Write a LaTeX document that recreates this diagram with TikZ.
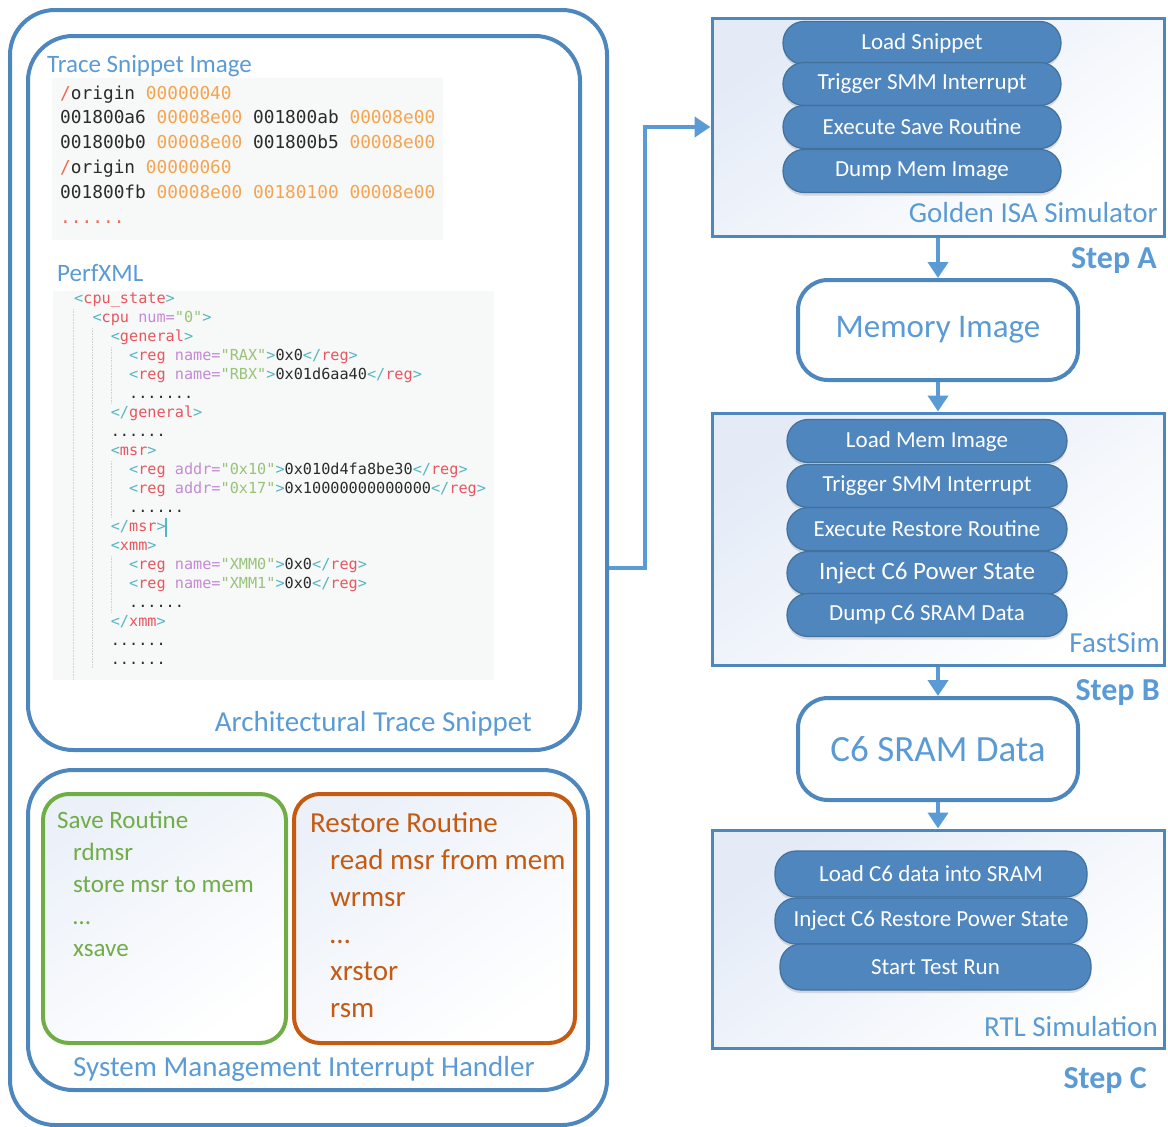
\documentclass[tikz,border=0pt]{standalone}
\usepackage{fontspec}
\setmainfont{Carlito}
\setmonofont{DejaVu Sans Mono}
\usetikzlibrary{arrows.meta,shadows}

\definecolor{boxblue}{HTML}{4E86BE}
\definecolor{arrowblue}{HTML}{5B9BD5}
\definecolor{labelblue}{HTML}{5B9BD5}
\definecolor{pillfill}{HTML}{4F86BD}
\definecolor{pillline}{HTML}{41719C}
\definecolor{simtint}{HTML}{E4EBF7}
\definecolor{savegreen}{HTML}{70AD47}
\definecolor{restorange}{HTML}{C55A11}
\definecolor{codebg}{HTML}{F7F8F8}
\definecolor{codetext}{HTML}{2B2B2B}
\definecolor{hexorange}{HTML}{F5A44F}
\definecolor{slashred}{HTML}{EE6A50}
\definecolor{xmlbr}{HTML}{56B6C2}
\definecolor{xmltag}{HTML}{E8575F}
\definecolor{xmlat}{HTML}{C58AD6}
\definecolor{xmlval}{HTML}{98C379}

% trace snippet colouring
\newcommand{\hx}[1]{{\color{hexorange}#1}}
\newcommand{\rsl}{{\color{slashred}/}}
% xml colouring
\newcommand{\xo}[1]{{\color{xmlbr}<}{\color{xmltag}#1}}
\newcommand{\xc}{{\color{xmlbr}>}}
\newcommand{\xe}[1]{{\color{xmlbr}</}{\color{xmltag}#1}{\color{xmlbr}>}}
\newcommand{\xa}[2]{{\color{xmlat}#1=}{\color{xmlval}"#2"}}
\newcommand{\lvl}[1]{\hspace*{#1\dimexpr1.204em\relax}}

\begin{document}
\begin{tikzpicture}[x=1pt, y=-1pt,
	box/.style = {draw = boxblue, line width = 4pt, rounded corners = 45pt, inner sep = 0pt},
	routine/.style = {line width = 4pt, rounded corners = 26pt, inner sep = 0pt,
					 top color = simtint!70, bottom color = white, shading angle = 35},
	simbox/.style = {draw = boxblue, line width = 3pt, inner sep = 0pt,
					 top color = simtint, bottom color = white, shading angle = 35},
	databox/.style = {draw = boxblue, line width = 4pt, fill = white, rounded corners = 30pt,
					 minimum width = 280pt, text = labelblue},
	pill/.style = {draw = pillline, fill = pillfill, line width = 1.2pt, rounded corners = 21pt,
				   minimum height = 43pt, text = white, font = \fontsize{23}{26}\selectfont,
				   drop shadow = {shadow xshift = 0pt, shadow yshift = -3pt, opacity = .25}},
	label/.style = {text = labelblue, inner sep = 0pt},
	steplbl/.style = {text = labelblue, inner sep = 0pt, font = \fontsize{32}{36}\bfseries},
	code/.style = {fill = codebg, inner sep = 0pt},
	guide/.style = {draw = gray!35, densely dotted, line width = .6pt},
	flow/.style = {draw = arrowblue, line width = 4pt, -{Triangle[width = 20pt, length = 16pt]}}]

	\useasboundingbox (0,0) rectangle (1168,1127);

	% left column
	\node[box, minimum width = 597pt, minimum height = 1115pt] (outer) at (308.5,567.5) {};
	\node[box, minimum width = 552pt, minimum height = 714pt] (archbox) at (304,393) {};
	\node[box, minimum width = 560pt, minimum height = 320pt] (smibox) at (308,930) {};

	\node[code, minimum width = 391pt, minimum height = 162pt] (tracebg) at (247.5,159) {};
	\node[code, minimum width = 441pt, minimum height = 389pt] (perfbg) at (273.5,485.5) {};

	\node[label, anchor = base west, font = \fontsize{25}{30}\selectfont] (tracelbl) at (47,72) {Trace Snippet Image};
	\node[label, anchor = base west, font = \fontsize{25}{30}\selectfont] (perflbl) at (57,281) {PerfXML};
	\node[label, anchor = base east, font = \fontsize{29}{32}\selectfont] (archlbl) at (532,731) {Architectural Trace Snippet};

	\node[anchor = north west, inner sep = 0pt, align = left, text = codetext,
		  font = \fontsize{17.8}{24.8}\ttfamily] (tracecode) at (60,81.6) {%
		\strut\rsl origin \hx{00000040}\\
		001800a6 \hx{00008e00} 001800ab \hx{00008e00}\\
		001800b0 \hx{00008e00} 001800b5 \hx{00008e00}\\
		\rsl origin \hx{00000060}\\
		001800fb \hx{00008e00} \hx{00180100} \hx{00008e00}\\
		{\color{slashred}......}};

	% indent guides
	\draw[guide] (73,309) -- (73,680);
	\draw[guide] (92,328) -- (92,668);
	\draw[guide] (111,347) -- (111,404);
	\draw[guide] (111,461) -- (111,518);
	\draw[guide] (111,556) -- (111,613);

	\node[anchor = north west, inner sep = 0pt, align = left, text = codetext,
		  font = \fontsize{15.2}{19}\ttfamily] (perfcode) at (74,290) {%
		\strut\xo{cpu\_state}\xc\\
		\lvl{1}\xo{cpu} \xa{num}{0}\xc\\
		\lvl{2}\xo{general}\xc\\
		\lvl{3}\xo{reg} \xa{name}{RAX}\xc 0x0\xe{reg}\\
		\lvl{3}\xo{reg} \xa{name}{RBX}\xc 0x01d6aa40\xe{reg}\\
		\lvl{3}.......\\
		\lvl{2}\xe{general}\\
		\lvl{2}......\\
		\lvl{2}\xo{msr}\xc\\
		\lvl{3}\xo{reg} \xa{addr}{0x10}\xc 0x010d4fa8be30\xe{reg}\\
		\lvl{3}\xo{reg} \xa{addr}{0x17}\xc 0x10000000000000\xe{reg}\\
		\lvl{3}......\\
		\lvl{2}\xe{msr}\\
		\lvl{2}\xo{xmm}\xc\\
		\lvl{3}\xo{reg} \xa{name}{XMM0}\xc 0x0\xe{reg}\\
		\lvl{3}\xo{reg} \xa{name}{XMM1}\xc 0x0\xe{reg}\\
		\lvl{3}......\\
		\lvl{2}\xe{xmm}\\
		\lvl{2}......\\
		\lvl{2}......};
	\draw[xmlbr, line width = 1.5pt] (166,518) -- (166,537);

	% save / restore routines
	\node[routine, draw = savegreen, minimum width = 243pt, minimum height = 249pt] (savebox) at (164.5,918.5) {};
	\node[routine, draw = restorange, minimum width = 281pt, minimum height = 249pt] (restbox) at (434.5,918.5) {};

	\node[anchor = north west, inner sep = 0pt, align = left, text = savegreen,
		  font = \fontsize{25}{32}\selectfont] (savetxt) at (57,805.6) {%
		\strut Save Routine\\
		\hspace*{16pt}rdmsr\\
		\hspace*{16pt}store msr to mem\\
		\hspace*{16pt}\dots\\
		\hspace*{16pt}xsave};
	\node[anchor = north west, inner sep = 0pt, align = left, text = restorange,
		  font = \fontsize{29}{37}\selectfont] (resttxt) at (310,806) {%
		\strut Restore Routine\\
		\hspace*{20pt}read msr from mem\\
		\hspace*{20pt}wrmsr\\
		\hspace*{20pt}\dots\\
		\hspace*{20pt}xrstor\\
		\hspace*{20pt}rsm};
	\node[label, anchor = base west, font = \fontsize{29}{32}\selectfont] (smilbl) at (73,1076)
		{System Management Interrupt Handler};

	% right column
	\node[simbox, minimum width = 452pt, minimum height = 218pt] (simA) at (938,127) {};
	\node[pill, minimum width = 278pt] (loadsnip) at (922,43) {Load Snippet};
	\node[pill, minimum width = 278pt] (trigA) at (922,84) {Trigger SMM Interrupt};
	\node[pill, minimum width = 278pt] (execsave) at (922,127) {Execute Save Routine};
	\node[pill, minimum width = 278pt] (dumpmem) at (922,171) {Dump Mem Image};
	\node[label, anchor = base east, font = \fontsize{29}{32}\selectfont] (simAlbl) at (1158,222) {Golden ISA Simulator};

	\node[databox, minimum height = 100pt, font = \fontsize{33}{36}\selectfont] (memimg) at (938,330) {Memory Image};

	\node[simbox, minimum width = 452pt, minimum height = 252pt] (simB) at (938,539) {};
	\node[pill, minimum width = 280pt] (loadmem) at (927,441) {Load Mem Image};
	\node[pill, minimum width = 280pt] (trigB) at (927,486) {Trigger SMM Interrupt};
	\node[pill, minimum width = 280pt] (execrest) at (927,529) {Execute Restore Routine};
	\node[pill, minimum width = 280pt, font = \fontsize{25}{28}\selectfont] (injc6) at (927,573) {Inject C6 Power State};
	\node[pill, minimum width = 280pt] (dumpsram) at (927,615) {Dump C6 SRAM Data};
	\node[label, anchor = base east, font = \fontsize{29}{32}\selectfont] (simBlbl) at (1160,652) {FastSim};

	\node[databox, minimum height = 102pt, font = \fontsize{37}{40}\selectfont] (sramdata) at (938,749) {C6 SRAM Data};

	\node[simbox, minimum width = 452pt, minimum height = 218pt] (simC) at (938,939) {};
	\node[pill, minimum width = 312pt, minimum height = 46pt] (loadc6) at (931,874) {Load C6 data into SRAM};
	\node[pill, minimum width = 312pt, minimum height = 46pt] (injrest) at (931,921) {Inject C6 Restore Power State};
	\node[pill, minimum width = 311pt, minimum height = 46pt] (startrun) at (935.5,967) {Start Test Run};
	\node[label, anchor = base east, font = \fontsize{29}{32}\selectfont] (simClbl) at (1158,1036) {RTL Simulation};

	\node[steplbl, anchor = base east] (stepA) at (1157,268) {Step A};
	\node[steplbl, anchor = base east] (stepB) at (1160,700) {Step B};
	\node[steplbl, anchor = base east] (stepC) at (1147,1088) {Step C};

	% connectors
	\draw[flow] (outer.east) -- ++(36,0) |- (simA.west);
	\draw[flow] (simA) -- (memimg);
	\draw[flow] (memimg) -- (simB);
	\draw[flow] (simB) -- (sramdata);
	\draw[flow] (sramdata) -- (simC);
\end{tikzpicture}
\end{document}
